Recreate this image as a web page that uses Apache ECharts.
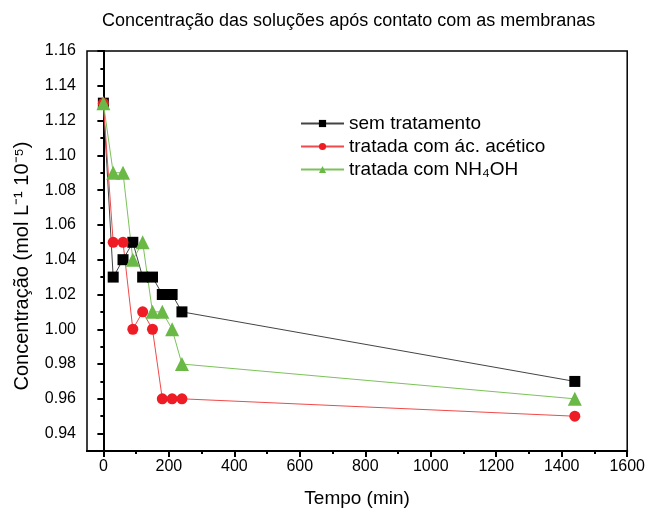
<!DOCTYPE html>
<html>
<head>
<meta charset="utf-8">
<script src="https://cdn.jsdelivr.net/npm/echarts@6/dist/echarts.min.js"></script>
<style>
  html, body { margin: 0; padding: 0; background: #fff; }
  #chart { width: 648px; height: 513px; }
</style>
</head>
<body>
<div id="chart"></div>
<script>
// tempo (min)
var tempo = [0, 30, 60, 90, 120, 150, 180, 210, 240, 1440];
// concentração (mol L-1 10-5)
var semTratamento = [1.13, 1.03, 1.04, 1.05, 1.03, 1.03, 1.02, 1.02, 1.01, 0.97];
var acAcetico = [1.13, 1.05, 1.05, 1.00, 1.01, 1.00, 0.96, 0.96, 0.96, 0.95];
var nh4oh = [1.13, 1.09, 1.09, 1.04, 1.05, 1.01, 1.01, 1.00, 0.98, 0.96];

var xMajor = [0, 200, 400, 600, 800, 1000, 1200, 1400, 1600];
var xMinor = [100, 300, 500, 700, 900, 1100, 1300, 1500];
var yMajor = [0.94, 0.96, 0.98, 1.00, 1.02, 1.04, 1.06, 1.08, 1.10, 1.12, 1.14, 1.16];
var yMinor = [0.93, 0.95, 0.97, 0.99, 1.01, 1.03, 1.05, 1.07, 1.09, 1.11, 1.13, 1.15];

var font = 'Liberation Sans, Arial, sans-serif';

function pairs(ys) {
  return tempo.map(function (t, i) { return [t, ys[i]]; });
}

var chart = echarts.init(document.getElementById('chart'));

var baseX = {
  type: 'value', min: -50, max: 1600,
  splitLine: { show: false },
  axisLine: { lineStyle: { color: '#000', width: 2 } }
};
var baseY = {
  type: 'value', min: 0.93, max: 1.16,
  splitLine: { show: false },
  axisLine: { lineStyle: { color: '#000', width: 2 } }
};

chart.setOption({
  backgroundColor: '#ffffff',
  animation: false,
  title: {
    text: 'Concentração das soluções após contato com as membranas',
    left: 97, top: 7,
    textStyle: { fontFamily: font, fontSize: 18, fontWeight: 'normal', color: '#000' }
  },
  grid: {
    left: 87, right: 19, top: 51, bottom: 62,
    show: true, borderColor: '#000', borderWidth: 1.5
  },
  legend: {
    orient: 'vertical', left: 295, top: 109, itemGap: 4,
    itemWidth: 43, itemHeight: 9,
    textStyle: { fontFamily: font, fontSize: 19, color: '#000' },
    data: ['sem tratamento', 'tratada com ác. acético', 'tratada com NH₄OH']
  },
  // y axis title, a little below the middle of the axis as in the original
  graphic: [{
    type: 'text', x: 22, y: 266, rotation: Math.PI / 2,
    style: {
      text: 'Concentração (mol L⁻¹ 10⁻⁵)',
      font: '20px Liberation Sans, Arial, sans-serif',
      fill: '#000', align: 'center', verticalAlign: 'middle'
    }
  }],
  xAxis: [
    Object.assign({}, baseX, {
      name: 'Tempo (min)', nameLocation: 'middle', nameGap: 38,
      nameTextStyle: { fontFamily: font, fontSize: 19, color: '#000' },
      axisTick: { customValues: xMajor, length: 6, lineStyle: { color: '#000', width: 2 } },
      axisLabel: {
        customValues: xMajor, fontFamily: font, fontSize: 16, color: '#000', margin: 8,
        formatter: function (v) { return String(Math.round(v)); }
      }
    }),
    Object.assign({}, baseX, {
      position: 'bottom',
      axisTick: { customValues: xMinor, length: 3, lineStyle: { color: '#000', width: 2 } },
      axisLabel: { show: false }
    })
  ],
  yAxis: [
    Object.assign({}, baseY, {
      axisTick: { customValues: yMajor, length: 6, lineStyle: { color: '#000', width: 2 } },
      axisLabel: {
        customValues: yMajor, fontFamily: font, fontSize: 16, color: '#000', margin: 11,
        formatter: function (v) { return v.toFixed(2); }
      }
    }),
    Object.assign({}, baseY, {
      position: 'left',
      axisTick: { customValues: yMinor, length: 3, lineStyle: { color: '#000', width: 2 } },
      axisLabel: { show: false }
    })
  ],
  series: [
    {
      name: 'sem tratamento', type: 'line', data: pairs(semTratamento),
      symbol: 'rect', symbolSize: 11,
      itemStyle: { color: '#000' },
      lineStyle: { color: '#444', width: 1 }
    },
    {
      name: 'tratada com ác. acético', type: 'line', data: pairs(acAcetico),
      symbol: 'circle', symbolSize: 11,
      itemStyle: { color: '#ee1c24' },
      lineStyle: { color: '#f04a4a', width: 1 }
    },
    {
      name: 'tratada com NH₄OH', type: 'line', data: pairs(nh4oh),
      symbol: 'triangle', symbolSize: 14,
      itemStyle: { color: '#6ab947' },
      lineStyle: { color: '#7cc25a', width: 1 }
    }
  ]
});
</script>
</body>
</html>
